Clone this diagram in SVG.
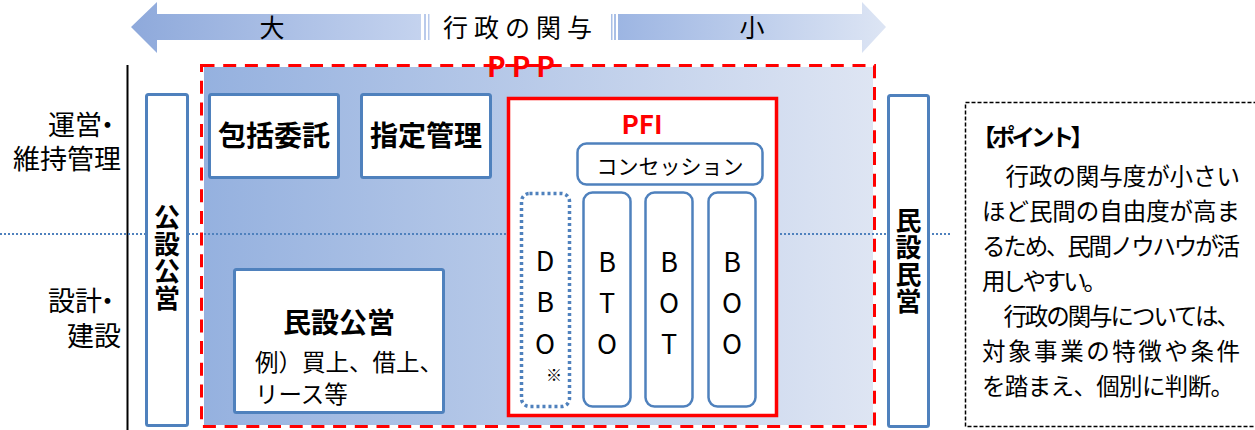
<svg xmlns="http://www.w3.org/2000/svg" width="1255" height="430" viewBox="0 0 1255 430">
<defs>
<linearGradient id="gArrowL" gradientUnits="userSpaceOnUse" x1="131" y1="0" x2="430" y2="0">
<stop offset="0" stop-color="#8EA9DB"/><stop offset="1" stop-color="#C6D4EF"/>
</linearGradient>
<linearGradient id="gArrowR" gradientUnits="userSpaceOnUse" x1="611" y1="0" x2="886" y2="0">
<stop offset="0" stop-color="#9BB4E2"/><stop offset="1" stop-color="#DDE5F4"/>
</linearGradient>
<linearGradient id="gPPP" gradientUnits="userSpaceOnUse" x1="204" y1="0" x2="873" y2="0">
<stop offset="0" stop-color="#95B1DF"/><stop offset="1" stop-color="#DEE5F3"/>
</linearGradient>
<style>
text{font-family:"Noto Sans CJK JP","Liberation Sans",sans-serif;fill:#000}
.lbl{font-size:27px}
.bold{font-weight:700}
.box{fill:#fff;stroke:#4F81BD;stroke-width:3}
.pill{fill:#fff;stroke:#4F81BD;stroke-width:2.5}
.pt{font-size:23.5px}
.ltr{font-size:27px;text-anchor:middle}
.vert{writing-mode:vertical-rl;font-size:26px;font-weight:700;letter-spacing:1px}
</style>
</defs>

<g id="connectors">
<path d="M131,27 L157,2 L157,14 L421,14 L421,40 L157,40 L157,53 Z" fill="url(#gArrowL)"/>
<rect x="424" y="14" width="2" height="26" fill="#B9CAEB"/>
<rect x="428" y="14" width="1.5" height="26" fill="#B9CAEB"/>
<rect x="611" y="14" width="1.5" height="26" fill="#A9BFE6"/>
<rect x="614" y="14" width="2" height="26" fill="#A9BFE6"/>
<path d="M618,14 L862,14 L862,2 L886,27 L862,53 L862,40 L618,40 Z" fill="url(#gArrowR)"/>
</g>
<g id="axis-labels">
<text x="272" y="37" font-size="25" text-anchor="middle">大</text>
<text x="443" y="37" font-size="25" letter-spacing="6">行政の関与</text>
<text x="752" y="37" font-size="25" text-anchor="middle">小</text>
</g>

<g id="ppp-area">
<rect x="204" y="67" width="669" height="358" fill="url(#gPPP)"/>
</g>

<g id="rows">
<line x1="127.5" y1="65" x2="127.5" y2="430" stroke="#000" stroke-width="2"/>
<text class="lbl" text-anchor="end"><tspan x="121" y="135">運営<tspan dx="-8">・</tspan></tspan><tspan x="121" y="169">維持管理</tspan></text>
<text class="lbl" text-anchor="end"><tspan x="121" y="311">設計<tspan dx="-8">・</tspan></tspan><tspan x="121" y="346">建設</tspan></text>
<line x1="0" y1="234" x2="950" y2="234" stroke="#4F81BD" stroke-width="2" stroke-dasharray="2 2"/>
</g>

<g id="kousetsu-koei">
<rect class="box" x="146.5" y="94.5" width="41" height="331" rx="2"/>
<text class="vert" x="167" y="204">公設公営</text>
</g>

<g id="houkatsu">
<rect class="box" x="209.5" y="94.5" width="129" height="83" rx="2"/>
<text class="bold" x="274" y="146" font-size="28" text-anchor="middle">包括委託</text>
</g>

<g id="shitei">
<rect class="box" x="361.5" y="94.5" width="129" height="83" rx="2"/>
<text class="bold" x="426" y="146" font-size="28" text-anchor="middle">指定管理</text>
</g>

<g id="minsetsu-koei">
<rect class="box" x="234.5" y="269.5" width="209" height="143" rx="2"/>
<text class="bold" x="339" y="333" font-size="28" text-anchor="middle">民設公営</text>
<text x="255" y="371" font-size="23.5">例）買上、借上、</text>
<text x="255" y="403" font-size="23.5">リース等</text>
</g>

<g id="pfi">
<rect x="508.5" y="98.5" width="268" height="317" fill="#fff" stroke="#FF0000" stroke-width="3.5"/>
<text class="bold" x="642" y="134" font-size="26" text-anchor="middle" style="fill:#FF0000">PFI</text>
</g>

<g id="concession">
<rect class="pill" x="577.5" y="143.5" width="185" height="41" rx="9"/>
<text x="670" y="174" font-size="21" text-anchor="middle">コンセッション</text>
</g>

<g id="dbo">
<rect x="521.5" y="193.5" width="48" height="213" rx="8" fill="#fff" stroke="#4F81BD" stroke-width="3.5" stroke-dasharray="3 3"/>
<text class="ltr"><tspan x="545" y="271">D</tspan><tspan x="545" y="312">B</tspan><tspan x="545" y="354">O</tspan></text>
<text x="554" y="381" font-size="16" text-anchor="middle">※</text>
</g>

<g id="bto">
<rect class="pill" x="583.5" y="192.5" width="47" height="214" rx="9"/>
<text class="ltr"><tspan x="607" y="272">B</tspan><tspan x="607" y="313">T</tspan><tspan x="607" y="354">O</tspan></text>
</g>

<g id="bot">
<rect class="pill" x="645.5" y="192.5" width="47" height="214" rx="9"/>
<text class="ltr"><tspan x="669" y="272">B</tspan><tspan x="669" y="313">O</tspan><tspan x="669" y="354">T</tspan></text>
</g>

<g id="boo">
<rect class="pill" x="708.5" y="192.5" width="47" height="214" rx="9"/>
<text class="ltr"><tspan x="732" y="272">B</tspan><tspan x="732" y="313">O</tspan><tspan x="732" y="354">O</tspan></text>
</g>

<g id="ppp">
<rect x="201.5" y="65.5" width="673" height="361" fill="none" stroke="#FF0000" stroke-width="3" stroke-dasharray="13 8.7"/>
<text class="bold" x="487" y="77" font-size="28" letter-spacing="6" style="fill:#FF0000">PPP</text>
</g>

<g id="minsetsu-minei">
<rect class="box" x="888.5" y="95.5" width="40" height="331" rx="2"/>
<text class="vert" x="908.5" y="207">民設民営</text>
</g>

<g id="point">
<rect x="965.5" y="102.5" width="300" height="324" fill="#fff" stroke="#000" stroke-width="1.5" stroke-dasharray="4 2"/>
<text class="pt bold" x="972" y="146" textLength="122" lengthAdjust="spacing">【ポイント】</text>
<text class="pt" x="982" y="185" textLength="258" lengthAdjust="spacing">　行政の関与度が小さい</text>
<text class="pt" x="982" y="220" textLength="258" lengthAdjust="spacing">ほど民間の自由度が高ま</text>
<text class="pt" x="982" y="255" textLength="258" lengthAdjust="spacing">るため、民間ノウハウが活</text>
<text class="pt" x="982" y="290" textLength="125" lengthAdjust="spacing">用しやすい。</text>
<text class="pt" x="982" y="325" textLength="258" lengthAdjust="spacing">　行政の関与については、</text>
<text class="pt" x="982" y="360" textLength="258" lengthAdjust="spacing">対象事業の特徴や条件</text>
<text class="pt" x="982" y="395" textLength="252" lengthAdjust="spacing">を踏まえ、個別に判断。</text>
</g>
</svg>
